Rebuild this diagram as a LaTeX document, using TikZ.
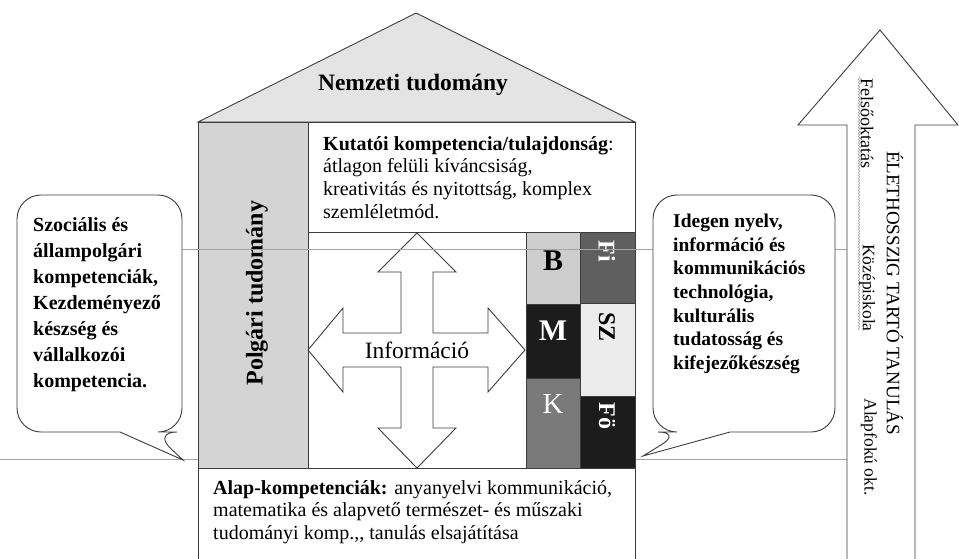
\documentclass[tikz,border=0pt]{standalone}
\usepackage{fontspec}
\setmainfont{Liberation Serif}
\usetikzlibrary{arrows.meta,positioning,shapes,calc,decorations.pathmorphing}
\definecolor{edgegray}{RGB}{60,60,60}
\definecolor{rulegray}{RGB}{165,165,165}
\definecolor{roofgray}{RGB}{228,228,228}
\definecolor{civicgray}{RGB}{212,212,212}
\definecolor{lightdots}{RGB}{206,206,206}
\definecolor{palegray}{RGB}{236,236,236}
\definecolor{midgray}{RGB}{122,122,122}
\definecolor{darkgray}{RGB}{95,95,95}
\definecolor{nearblack}{RGB}{28,28,28}

\begin{document}
\begin{tikzpicture}[x=1pt, y=-1pt,
            part/.style={rectangle, draw=edgegray, line width=0.9pt, fill=white, inner sep=0pt, outer sep=0pt, anchor=north west},
            block/.style={part, minimum width=54.5},
            letter/.style={font=\fontsize{30}{30}\selectfont\bfseries, inner sep=0pt},
            sideletter/.style={letter, rotate=-90, font=\fontsize{24}{24}\selectfont\bfseries},
            body/.style={align=left, inner sep=0pt, anchor=north west, font=\fontsize{20}{22.8}\selectfont},
            bubtext/.style={body, font=\fontsize{20}{26}\selectfont\bfseries},
            bubble/.style={draw=edgegray, line width=0.9pt, fill=white},
            rule/.style={rulegray, line width=0.8pt}
        ]
        \useasboundingbox (0,0) rectangle (959,558);
        % lower rule, behind the house
        \draw[rule] (0,459) -- (847,459);

        % roof
        \draw[edgegray, line width=0.9pt, fill=roofgray] (198,122) -- (416,13) -- (635,122) -- cycle;
        \node[font=\fontsize{23.5}{23.5}\selectfont\bfseries] (roof) at (413,85) {Nemzeti tudomány};

        % walls
        \node[part, fill=civicgray, minimum width=110, minimum height=346] (civic) at (198,122) {};
        \node[part, minimum width=327, minimum height=110] (research) at (civic.north east) {};
        \node[part, minimum width=218, minimum height=236] (infobox) at (research.south west) {};
        \node[part, minimum width=437, minimum height=92] (basics) at (civic.south west) {};

        % subject blocks
        \node[block, fill=lightdots, minimum height=72] (b) at (infobox.north east) {};
        \node[block, fill=nearblack, minimum height=74] (m) at (b.south west) {};
        \node[block, fill=midgray, minimum height=90] (k) at (m.south west) {};
        \node[block, fill=darkgray, minimum height=71] (fi) at (b.north east) {};
        \node[block, fill=palegray, minimum height=93] (sz) at (fi.south west) {};
        \node[block, fill=nearblack, minimum height=72] (fo) at (sz.south west) {};

        \node[letter] (bl) at (553,261) {B};
        \node[letter, white] (ml) at (553,331) {M};
        \node[letter, white, font=\fontsize{29}{29}\selectfont] (kl) at (553,404) {K};
        \node[sideletter, white] (fil) at (607,251) {Fi};
        \node[sideletter] (szl) at (607,327) {SZ};
        \node[sideletter, white] (fol) at (607,416) {Fö};

        % texts of the house
        \node[font=\fontsize{24}{24}\selectfont\bfseries, rotate=90] (civictext) at ($(civic.center)+(4,-2)$) {Polgári tudomány};
        \node[body] (researchtext) at (323,136) {\textbf{Kutatói kompetencia/tulajdonság}:\\átlagon felüli kíváncsiság,\\kreativitás és nyitottság, komplex\\szemléletmód.};
        \node[body] (basicstext) at (213,480) {\textbf{Alap-kompetenciák:} anyanyelvi kommunikáció,\\matematika és alapvető természet- és műszaki\\tudományi komp.,{},{} tanulás elsajátítása};

        % information cross
        \begin{scope}[shift={(417,350)}]
        \draw[edgegray, line width=0.9pt, fill=white] (0,-117) -- (39,-78) -- (16,-78) -- (16,-17) -- (71,-17) -- (71,-42) -- (108,0) -- (71,42) -- (71,17) -- (16,17) -- (16,78) -- (39,78) -- (0,118) -- (-39,78) -- (-16,78) -- (-16,17) -- (-74,17) -- (-74,42) -- (-109,0) -- (-74,-42) -- (-74,-17) -- (-16,-17) -- (-16,-78) -- (-39,-78) -- cycle;
        \end{scope}
        \node[font=\fontsize{23.5}{23.5}\selectfont, inner sep=0pt] (info) at (417,350) {Információ};

        % upper rule, over the house
        \draw[rule] (100,249) -- (847,249);

        % speech bubbles
        \draw[bubble] (17,300) [rounded corners=24pt] |- (182,195) |- (153,432) [sharp corners] -- (183,460) -- (120,432) -- (60,432) [rounded corners=24pt] -- (17,432) -- cycle;
        \node[bubtext] (lefttext) at (33,217) {Szociális és\\állampolgári\\kompetenciák,\\Kezdeményező\\készség és\\vállalkozói\\kompetencia.};

        \draw[bubble] (835,300) [rounded corners=24pt] |- (653,195) |- (682,432) [sharp corners] -- (643,456) -- (730,432) -- (790,432) [rounded corners=24pt] -- (835,432) -- cycle;
        \node[bubtext, font=\fontsize{19.5}{23.6}\selectfont\bfseries] (righttext) at (673,214) {Idegen nyelv,\\információ és\\kommunikációs\\technológia,\\kulturális\\tudatosság és\\kifejezőkészség};

        % lifelong learning arrow
        \draw[bubble] (847,560) -- (847,125) -- (798,125) -- (880,30) -- (958,125) -- (915,125) -- (915,560) -- cycle;
        \node[rotate=-90, font=\fontsize{19}{19}\selectfont] (lifelong) at (895,293) {ÉLETHOSSZIG TARTÓ TANULÁS};
        \draw[rulegray, line width=0.6pt, decorate, decoration={snake, amplitude=0.8pt, segment length=3pt}] (859,77) -- (859,330);
        \node[rotate=-90, font=\fontsize{18}{18}\selectfont] (higher) at (867,123) {Felsőoktatás};
        \node[rotate=-90, font=\fontsize{17.5}{17.5}\selectfont] (middle) at (867,288) {Középiskola};
        \node[rotate=-90, font=\fontsize{17.5}{17.5}\selectfont] (primary) at (869,447) {Alapfokú okt.};
\end{tikzpicture}
\end{document}
